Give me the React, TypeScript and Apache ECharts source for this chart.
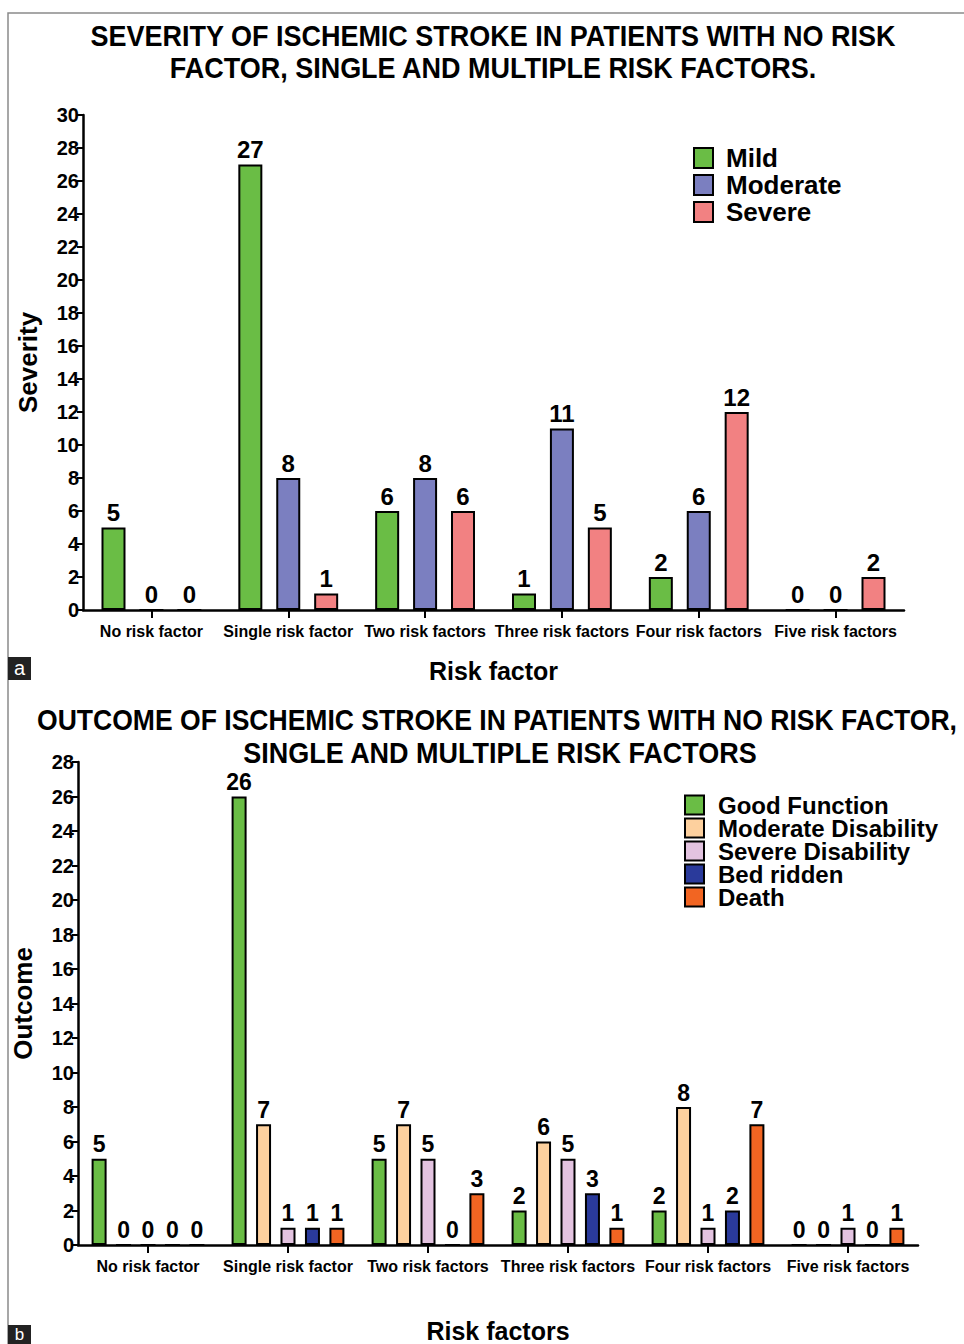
import React, { useEffect, useRef } from "react";
import * as echarts from "echarts";

const categories = [
  "No risk factor",
  "Single risk factor",
  "Two risk factors",
  "Three risk factors",
  "Four risk factors",
  "Five risk factors",
];

const severityNames = ["Mild", "Moderate", "Severe"];
const mild = [5, 27, 6, 1, 2, 0];
const moderate = [0, 8, 8, 11, 6, 0];
const severe = [0, 1, 6, 5, 12, 2];

const outcomeNames = ["Good Function", "Moderate Disability", "Severe Disability", "Bed ridden", "Death"];
const goodFunction = [5, 26, 5, 2, 2, 0];
const moderateDisability = [0, 7, 7, 6, 8, 0];
const severeDisability = [0, 1, 5, 5, 1, 1];
const bedRidden = [0, 1, 0, 3, 2, 0];
const death = [0, 1, 3, 1, 7, 1];

const severityColors = ["#6abd45", "#7b7fc0", "#f28182"];
const outcomeColors = ["#6abd45", "#fdd09e", "#e3c3e0", "#2a3a9b", "#f26522"];

const NARROW = "'Liberation Sans Narrow', 'Arial Narrow', 'Liberation Sans', Arial, sans-serif";
const WIDE = "'Liberation Sans', Arial, sans-serif";

export default function App() {
  const ref = useRef<HTMLDivElement>(null);
  useEffect(() => {
    document.body.style.margin = "0";
    const chart = echarts.init(ref.current!, null, { renderer: "svg" });

    const axisLine = { show: true, lineStyle: { color: "#000", width: 2.5 } };
    const mkY = (gridIndex: number, max: number, name: string) => ({
      type: "value",
      gridIndex,
      min: 0,
      max,
      interval: 2,
      name,
      nameLocation: "middle",
      nameGap: 42,
      nameTextStyle: { fontFamily: WIDE, fontWeight: "bold", fontSize: 26, color: "#000" },
      axisLine,
      axisTick: { show: true, length: 6, lineStyle: { color: "#000", width: 2 } },
      splitLine: { show: false },
      axisLabel: { color: "#000", fontFamily: NARROW, fontWeight: "bold", fontSize: 20, margin: 4 },
    });
    const mkX = (gridIndex: number, name: string, nameGap: number) => ({
      type: "category",
      gridIndex,
      data: categories,
      name,
      nameLocation: "middle",
      nameGap,
      nameTextStyle: { fontFamily: NARROW, fontWeight: "bold", fontSize: 25, color: "#000" },
      axisLine,
      axisTick: { show: true, alignWithLabel: true, length: 8, lineStyle: { color: "#000", width: 2 } },
      axisLabel: { color: "#000", fontFamily: NARROW, fontWeight: "bold", fontSize: 16, margin: 13, interval: 0 },
    });

    const mkBar = (
      name: string,
      data: number[],
      color: string,
      idx: number,
      barWidth: number,
      barGap: string,
      fontSize: number
    ) => ({
      type: "bar",
      name,
      data,
      xAxisIndex: idx,
      yAxisIndex: idx,
      barWidth,
      barGap,
      itemStyle: { color, borderColor: "#000", borderWidth: 2 },
      label: {
        show: true,
        position: "top",
        distance: 3,
        color: "#000",
        fontFamily: NARROW,
        fontWeight: "bold",
        fontSize,
      },
    });

    const sevData = [mild, moderate, severe];
    const outData = [goodFunction, moderateDisability, severeDisability, bedRidden, death];

    const series: any[] = [];
    severityNames.forEach((n, i) => series.push(mkBar(n, sevData[i], severityColors[i], 0, 24, "58%", 24)));
    outcomeNames.forEach((n, i) => series.push(mkBar(n, outData[i], outcomeColors[i], 1, 15, "63%", 23)));

    const titleStyle = (text: string, x: number, y: number, sx: number) => ({
      type: "text",
      x,
      y,
      scaleX: sx,
      style: {
        text,
        fill: "#000",
        font: `bold 30px ${NARROW}`,
        textAlign: "center",
        textVerticalAlign: "middle",
      },
    });

    chart.setOption({
      animation: false,
      backgroundColor: "#fff",
      grid: [
        { left: 83, top: 115, width: 821, height: 495 },
        { left: 78, top: 762, width: 840, height: 484 },
      ],
      xAxis: [mkX(0, "Risk factor", 48), mkX(1, "Risk factors", 73)],
      yAxis: [mkY(0, 30, "Severity"), mkY(1, 28, "Outcome")],
      legend: [
        {
          data: severityNames,
          orient: "vertical",
          left: 688,
          top: 140,
          itemWidth: 19,
          itemHeight: 20,
          itemGap: 1,
          icon: "rect",
          textStyle: {
            fontFamily: WIDE,
            fontWeight: "bold",
            fontSize: 26,
            color: "#000",
            padding: [0, 0, 0, 8],
          },
        },
        {
          data: outcomeNames,
          orient: "vertical",
          left: 679,
          top: 788,
          itemWidth: 19,
          itemHeight: 19,
          itemGap: -1,
          icon: "rect",
          textStyle: {
            fontFamily: WIDE,
            fontWeight: "bold",
            fontSize: 24,
            color: "#000",
            padding: [0, 0, 0, 9],
          },
        },
      ],
      graphic: [
        {
          type: "polyline",
          shape: { points: [[8, 1344], [8, 13], [964, 13]] },
          style: { stroke: "#8a8a8a", lineWidth: 1.5, fill: "none" },
        },
        titleStyle("SEVERITY OF ISCHEMIC STROKE IN PATIENTS WITH NO RISK", 493, 35, 0.9),
        titleStyle("FACTOR, SINGLE AND MULTIPLE RISK FACTORS.", 493, 67, 0.9),
        titleStyle("OUTCOME OF ISCHEMIC STROKE IN PATIENTS WITH NO RISK FACTOR,", 497, 719, 0.885),
        titleStyle("SINGLE AND MULTIPLE RISK FACTORS", 500, 752, 0.9),
        { type: "rect", shape: { x: 8, y: 657, width: 23, height: 23 }, style: { fill: "#222" } },
        {
          type: "text",
          x: 19.5,
          y: 668,
          style: { text: "a", fill: "#fff", font: `20px ${NARROW}`, textAlign: "center", textVerticalAlign: "middle" },
        },
        { type: "rect", shape: { x: 8, y: 1325, width: 23, height: 19 }, style: { fill: "#222" } },
        {
          type: "text",
          x: 19.5,
          y: 1334,
          style: { text: "b", fill: "#fff", font: `17px ${NARROW}`, textAlign: "center", textVerticalAlign: "middle" },
        },
      ],
      series,
    });
    return () => chart.dispose();
  }, []);
  return <div ref={ref} style={{ position: "absolute", left: 0, top: 0, width: 964, height: 1344 }} />;
}
